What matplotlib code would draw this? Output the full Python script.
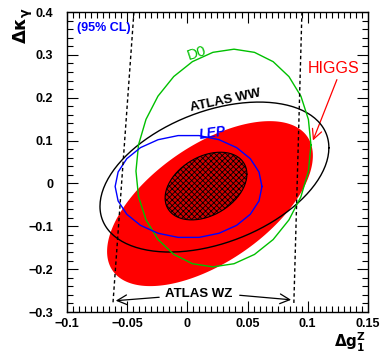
import numpy as np
import matplotlib
matplotlib.use("Agg")
import matplotlib.pyplot as plt
from matplotlib.ticker import MultipleLocator

plt.rcParams['font.family'] = ['Liberation Sans', 'DejaVu Sans']

# Contour ellipses: centre, half-extent in x and y, correlation (cos of phase shift)
names = ['HIGGS', 'HIGGS core', 'ATLAS WW', 'D0', 'LEP']
cx = [0.0188, 0.0155, 0.0225, 0.030, 0.001]
hx = [0.0855, 0.034, 0.0951, 0.0727, 0.061]
cy = [-0.047, -0.006, 0.015, 0.0594, -0.007]
hy = [0.1925, 0.079, 0.175, 0.254, 0.120]
rho = [0.58, 0.35, 0.39, 0.12, 0.0]
npts = [200, 200, 200, 26, 22]

# ATLAS WZ limits (dashed lines): x at top and bottom
wz_top_x = [-0.0444, 0.0952]
wz_bot_x = [-0.0618, 0.0885]
wz_y = [0.4, -0.279]

xticks = [-0.1, -0.05, 0, 0.05, 0.1, 0.15]
yticks = [-0.3, -0.2, -0.1, 0, 0.1, 0.2, 0.3, 0.4]


def ellipse(i):
    t = np.linspace(0, 2 * np.pi, npts[i] + 1)
    phi = np.arccos(rho[i])
    return cx[i] + hx[i] * np.cos(t), cy[i] + hy[i] * np.cos(t - phi)


fig = plt.figure(figsize=(3.84, 3.55), dpi=100)
ax = fig.add_axes([0.1745, 0.121, 0.7835, 0.845])

x, y = ellipse(0)
ax.fill(x, y, color='#ff0000', lw=0, zorder=1)
x, y = ellipse(1)
plt.rcParams['hatch.linewidth'] = 0.6
ax.fill(x, y, facecolor='#d00000', edgecolor='black', hatch='xxxxxx', lw=0, zorder=2)
ax.plot(x, y, color='black', lw=0.8, zorder=3)
x, y = ellipse(2)
ax.plot(x, y, color='black', lw=1.0, zorder=4)
x, y = ellipse(3)
ax.plot(x, y, color='#00c000', lw=1.0, zorder=4)
x, y = ellipse(4)
ax.plot(x, y, color='#0000ff', lw=1.0, zorder=4)

for k in range(2):
    ax.plot([wz_top_x[k], wz_bot_x[k]], wz_y, color='black', lw=1.0,
            linestyle=(0, (2.5, 2)), zorder=5)

ax.text(0.0096, -0.258, 'ATLAS WZ', ha='center', va='center', fontsize=9.5,
        fontweight='bold', zorder=6)
ax.annotate('', xy=(-0.0618, -0.274), xytext=(-0.0211, -0.265),
            arrowprops=dict(arrowstyle='->,head_length=0.7,head_width=0.35', lw=0.9, color='black'))
ax.annotate('', xy=(0.0885, -0.272), xytext=(0.0412, -0.2603),
            arrowprops=dict(arrowstyle='->,head_length=0.7,head_width=0.35', lw=0.9, color='black'))

ax.text(0.1218, 0.2693, 'HIGGS', color='#ff0000', ha='center', va='center', fontsize=11.5)
ax.annotate('', xy=(0.1035, 0.0943), xytext=(0.1251, 0.2483),
            arrowprops=dict(arrowstyle='->,head_length=0.7,head_width=0.35', lw=0.9, color='#ff0000'))

ax.text(0.032, 0.1923, 'ATLAS WW', ha='center', va='center', fontsize=9.5,
        fontweight='bold', rotation=12, zorder=6)
ax.text(0.0213, 0.1177, 'LEP', color='#0000ff', ha='center', va='center', fontsize=10,
        fontweight='bold', style='italic', rotation=8, zorder=6)
ax.text(0.008, 0.304, 'D0', color='#00c000', ha='center', va='center', fontsize=11,
        rotation=18, zorder=6)
ax.text(-0.0693, 0.3627, '(95% CL)', color='#0000ff', ha='center', va='center', fontsize=9,
        fontweight='bold', zorder=6)

ax.set_xlim(-0.1, 0.15)
ax.set_ylim(-0.3, 0.4)
ax.set_xticks(xticks)
ax.set_yticks(yticks)
ax.set_xticklabels(['\u22120.1', '\u22120.05', '0', '0.05', '0.1', '0.15'], fontweight='bold', fontsize=9)
ax.set_yticklabels(['\u22120.3', '\u22120.2', '\u22120.1', '0', '0.1', '0.2', '0.3', '0.4'], fontweight='bold', fontsize=9)
ax.xaxis.set_minor_locator(MultipleLocator(0.005))
ax.yaxis.set_minor_locator(MultipleLocator(0.02))
ax.tick_params(which='both', direction='in', top=True, right=True, width=0.8)
ax.tick_params(which='major', length=8)
ax.tick_params(which='minor', length=4)
ax.tick_params(axis='x', pad=4)
ax.tick_params(axis='y', pad=10)
for s in ax.spines.values():
    s.set_linewidth(1.0)

fig.text(0.912, 0.004, r'$\mathbf{\Delta g_1^{Z}}$', ha='center', va='bottom', fontsize=11)
fig.text(0.06, 0.93, r'$\mathbf{\Delta\kappa_\gamma}$', ha='center', va='center', fontsize=13, rotation=90)

fig.savefig('out.png', dpi=100)
